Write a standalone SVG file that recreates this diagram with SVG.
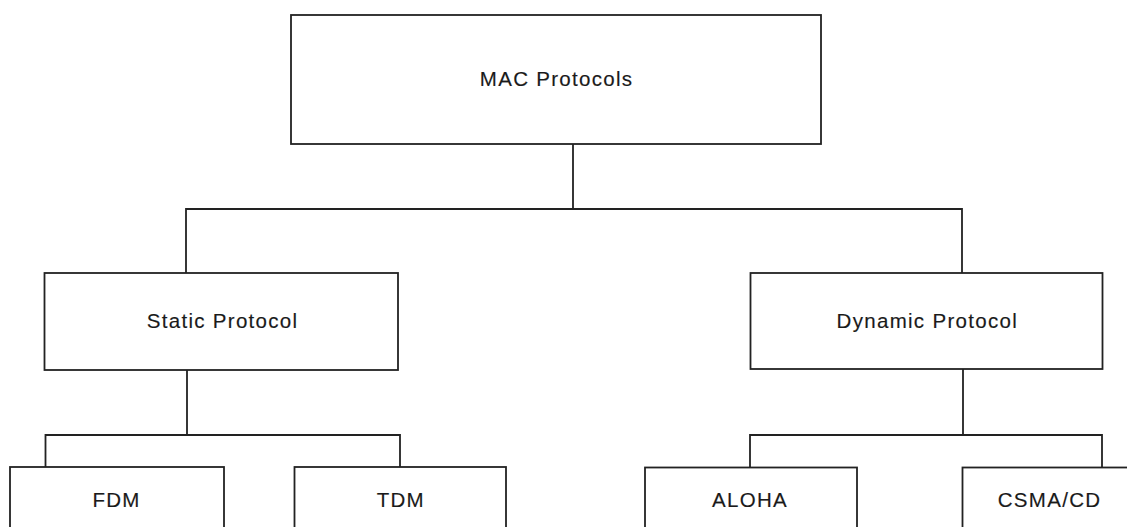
<svg xmlns="http://www.w3.org/2000/svg" width="1127" height="527" viewBox="0 0 1127 527">
<style>
.box{fill:#fff;stroke:#222;stroke-width:1.8}
.lbl{font-family:"Liberation Sans",Arial,sans-serif;font-size:20.5px;letter-spacing:1.3px;fill:#1a1a1a;stroke:#1a1a1a;stroke-width:0.15;text-anchor:middle}
.con{fill:none;stroke:#222;stroke-width:1.8}
</style>
<rect width="1127" height="527" fill="#fff"/>
<g id="connectors">
<path class="con" d="M573 144V209M186 273V209H962V273"/>
<path class="con" d="M187 370V435M45.5 467V435H400V467"/>
<path class="con" d="M963 369V435M750 467V435H1102V467"/>
</g>
<g id="mac"><rect class="box" x="291" y="15" width="530" height="129"/><text class="lbl" x="556.6" y="86">MAC Protocols</text></g>
<g id="static"><rect class="box" x="44.5" y="273" width="353.5" height="97"/><text class="lbl" x="222.6" y="328">Static Protocol</text></g>
<g id="dynamic"><rect class="box" x="750.5" y="273" width="352" height="96"/><text class="lbl" x="927.3" y="327.5">Dynamic Protocol</text></g>
<g id="fdm"><rect class="box" x="10" y="467" width="214" height="80"/><text class="lbl" x="116.6" y="506.5">FDM</text></g>
<g id="tdm"><rect class="box" x="294.5" y="467" width="211.5" height="80"/><text class="lbl" x="400.8" y="506.5">TDM</text></g>
<g id="aloha"><rect class="box" x="645" y="467.5" width="212" height="80"/><text class="lbl" x="750.1" y="506.5">ALOHA</text></g>
<g id="csma"><rect class="box" x="962.5" y="467.5" width="212" height="80"/><text class="lbl" x="1049.6" y="506.5">CSMA/CD</text></g>
</svg>
